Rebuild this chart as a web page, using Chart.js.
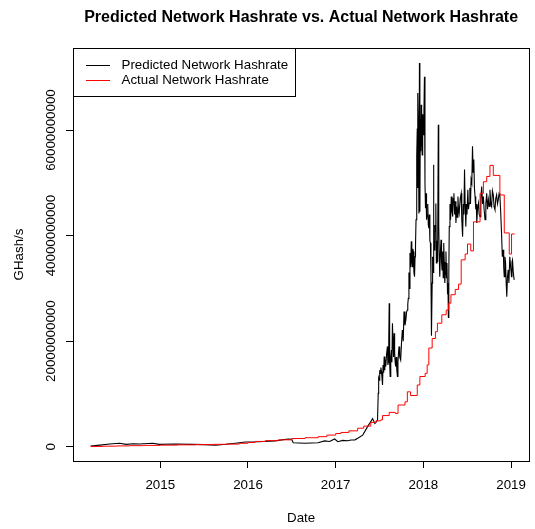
<!DOCTYPE html>
<html><head><meta charset="utf-8">
<script src="https://cdn.jsdelivr.net/npm/chart.js@4.4.0/dist/chart.umd.min.js"></script>
<style>html,body{margin:0;padding:0;background:#fff;overflow:hidden}canvas{display:block}</style>
</head><body><canvas id="c" width="535" height="529"></canvas>
<script>
const chartTitle = 'Predicted Network Hashrate vs. Actual Network Hashrate';
const xAxisTitle = 'Date';
const yAxisTitle = 'GHash/s';
const legendLabels = ['Predicted Network Hashrate', 'Actual Network Hashrate'];
const xTickYears = [2015, 2016, 2017, 2018, 2019];
const yTickValues = [0, 20000000000, 40000000000, 60000000000];

// [decimal year, GHash/s]
const predictedSeries = [
 [2014.205,0.013e10],[2014.31,0.03e10],[2014.423,0.05e10],[2014.536,0.065e10],[2014.612,0.045e10],
 [2014.69,0.055e10],[2014.762,0.05e10],[2014.913,0.065e10],[2014.989,0.045e10],[2015.17,0.05e10],
 [2015.362,0.045e10],[2015.5,0.04e10],[2015.63,0.027e10],[2015.75,0.045e10],[2015.856,0.065e10],
 [2015.969,0.09e10],[2016.12,0.095e10],[2016.309,0.11e10],[2016.459,0.146e10],[2016.497,0.14e10],
 [2016.516,0.076e10],[2016.648,0.065e10],[2016.799,0.076e10],[2016.874,0.11e10],[2016.93,0.1e10],
 [2016.988,0.146e10],[2017.025,0.095e10],[2017.08,0.12e10],[2017.138,0.114e10],[2017.175,0.127e10],
 [2017.22,0.13e10],[2017.251,0.16e10],[2017.308,0.22e10],[2017.364,0.38e10],[2017.421,0.53e10],
 [2017.447,0.44e10],[2017.477,0.5e10],[2017.485,1.01e10],[2017.49,1.3e10],[2017.497,1.26e10],
 [2017.502,1.45e10],[2017.508,1.39e10],[2017.515,1.5e10],[2017.523,1.42e10],[2017.528,1.3e10],
 [2017.534,1.17e10],[2017.54,1.55e10],[2017.547,1.4e10],[2017.553,1.71e10],[2017.56,1.45e10],
 [2017.565,1.65e10],[2017.571,1.52e10],[2017.58,1.75e10],[2017.59,1.9e10],[2017.595,1.55e10],
 [2017.6,1.6e10],[2017.605,2.0e10],[2017.61,2.72e10],[2017.615,1.6e10],[2017.621,1.33e10],
 [2017.628,1.7e10],[2017.636,1.83e10],[2017.641,1.6e10],[2017.647,2.34e10],[2017.655,1.9e10],
 [2017.66,1.7e10],[2017.666,2.15e10],[2017.672,1.8e10],[2017.678,1.6e10],[2017.684,1.52e10],
 [2017.69,1.7e10],[2017.697,1.45e10],[2017.704,1.33e10],[2017.71,1.6e10],[2017.717,1.8e10],
 [2017.723,1.9e10],[2017.73,1.7e10],[2017.741,1.64e10],[2017.75,1.95e10],[2017.76,2.21e10],
 [2017.77,2.0e10],[2017.779,2.56e10],[2017.79,2.3e10],[2017.8,2.4e10],[2017.808,2.55e10],
 [2017.817,2.59e10],[2017.822,2.7e10],[2017.828,2.81e10],[2017.835,3.3e10],[2017.84,3.0e10],
 [2017.847,3.67e10],[2017.855,3.4e10],[2017.862,3.89e10],[2017.868,3.5e10],[2017.873,3.41e10],
 [2017.879,3.75e10],[2017.885,3.7e10],[2017.892,3.3e10],[2017.899,3.22e10],[2017.905,3.6e10],
 [2017.91,3.8e10],[2017.916,4.3e10],[2017.922,4.87e10],[2017.926,5.5e10],[2017.93,6.03e10],
 [2017.934,4.9e10],[2017.938,6.7e10],[2017.944,5.8e10],[2017.949,4.42e10],[2017.955,7.27e10],
 [2017.96,4.45e10],[2017.965,6.2e10],[2017.97,5.6e10],[2017.975,6.48e10],[2017.98,6.0e10],
 [2017.986,5.53e10],[2017.992,6.3e10],[2017.998,5.91e10],[2018.005,6.2e10],[2018.012,7.01e10],
 [2018.018,5.0e10],[2018.024,4.52e10],[2018.03,4.8e10],[2018.036,4.3e10],[2018.043,4.39e10],
 [2018.05,4.6e10],[2018.056,4.2e10],[2018.062,4.14e10],[2018.068,4.4e10],[2018.074,3.9e10],
 [2018.08,3.86e10],[2018.086,3.3e10],[2018.092,2.1e10],[2018.1,3.1e10],[2018.105,3.6e10],
 [2018.11,3.3e10],[2018.115,5.34e10],[2018.12,3.9e10],[2018.126,3.73e10],[2018.131,4.2e10],
 [2018.137,4.08e10],[2018.142,4.61e10],[2018.148,3.48e10],[2018.155,3.9e10],[2018.162,3.5e10],
 [2018.17,6.1e10],[2018.175,4.2e10],[2018.181,3.6e10],[2018.187,3.22e10],[2018.194,3.7e10],
 [2018.201,3.92e10],[2018.207,3.5e10],[2018.213,3.35e10],[2018.22,3.7e10],[2018.226,3.2e10],
 [2018.232,3.86e10],[2018.238,3.5e10],[2018.244,3.1e10],[2018.25,3.29e10],[2018.257,3.7e10],
 [2018.263,3.2e10],[2018.269,3.48e10],[2018.275,2.9e10],[2018.28,3.1e10],[2018.285,2.45e10],
 [2018.29,3.3e10],[2018.295,4.17e10],[2018.303,4.6e10],[2018.31,4.3e10],[2018.318,4.74e10],
 [2018.326,4.45e10],[2018.334,4.36e10],[2018.34,4.7e10],[2018.348,4.8e10],[2018.356,4.4e10],
 [2018.363,4.65e10],[2018.371,4.24e10],[2018.379,4.55e10],[2018.387,4.35e10],[2018.394,4.74e10],
 [2018.4,4.5e10],[2018.408,4.42e10],[2018.42,4.7e10],[2018.431,4.8e10],[2018.438,4.3e10],
 [2018.447,3.98e10],[2018.455,4.6e10],[2018.462,4.4e10],[2018.469,5.25e10],[2018.476,4.6e10],
 [2018.484,4.17e10],[2018.49,4.6e10],[2018.497,4.4e10],[2018.507,4.87e10],[2018.514,4.5e10],
 [2018.521,4.61e10],[2018.53,4.9e10],[2018.537,4.6e10],[2018.544,5.06e10],[2018.552,5.0e10],
 [2018.56,5.69e10],[2018.567,5.2e10],[2018.575,5.44e10],[2018.582,4.9e10],[2018.589,4.74e10],
 [2018.597,4.5e10],[2018.603,4.6e10],[2018.609,4.24e10],[2018.617,4.5e10],[2018.628,4.61e10],
 [2018.636,4.4e10],[2018.646,4.36e10],[2018.655,4.7e10],[2018.665,4.93e10],[2018.674,4.6e10],
 [2018.684,4.74e10],[2018.692,4.5e10],[2018.703,4.3e10],[2018.712,4.6e10],[2018.722,4.8e10],
 [2018.731,4.5e10],[2018.741,4.68e10],[2018.75,4.55e10],[2018.759,4.87e10],[2018.768,4.6e10],
 [2018.778,4.55e10],[2018.787,4.85e10],[2018.797,4.77e10],[2018.806,4.55e10],[2018.816,4.49e10],
 [2018.825,4.7e10],[2018.835,4.77e10],[2018.845,4.6e10],[2018.854,4.68e10],[2018.863,4.8e10],
 [2018.872,4.77e10],[2018.88,4.5e10],[2018.891,4.05e10],[2018.9,3.6e10],[2018.911,3.73e10],
 [2018.916,3.4e10],[2018.922,3.22e10],[2018.93,3.6e10],[2018.937,3.48e10],[2018.944,3.1e10],
 [2018.951,2.84e10],[2018.958,3.2e10],[2018.967,3.35e10],[2018.975,3.1e10],[2018.985,3.6e10],
 [2018.995,3.4e10],[2019.005,3.22e10],[2019.01,3.5e10],[2019.016,3.54e10],[2019.025,3.3e10],
 [2019.035,3.16e10]
];
const actualSeries = [
 [2014.205,0.005e10],[2014.35,0.01e10],[2014.5,0.015e10],[2014.65,0.02e10],[2014.8,0.025e10],
 [2015.0,0.03e10],[2015.2,0.035e10],[2015.4,0.04e10],[2015.6,0.045e10],[2015.75,0.05e10],
 [2015.9,0.065e10],[2016.0,0.08e10],[2016.08,0.1e10],[2016.2,0.115e10],[2016.35,0.13e10],
 [2016.5,0.155e10],[2016.65,0.17e10],[2016.8,0.19e10],[2016.9,0.22e10],[2017.0,0.25e10],
 [2017.06,0.27e10],[2017.15,0.3e10],[2017.25,0.35e10],[2017.32,0.39e10],[2017.4,0.46e10],
 [2017.46,0.49e10],[2017.515,0.51e10],[2017.534,0.59e10],[2017.61,0.65e10],[2017.68,0.63e10],
 [2017.711,0.79e10],[2017.79,0.85e10],[2017.817,1.04e10],[2017.854,0.97e10],[2017.93,1.17e10],
 [2017.96,1.33e10],[2018.02,1.39e10],[2018.043,1.55e10],[2018.062,1.87e10],[2018.1,2.05e10],
 [2018.137,2.18e10],[2018.16,2.34e10],[2018.21,2.5e10],[2018.26,2.59e10],[2018.288,2.72e10],
 [2018.314,2.88e10],[2018.363,2.98e10],[2018.401,3.08e10],[2018.431,3.54e10],[2018.476,3.65e10],
 [2018.503,3.84e10],[2018.54,3.71e10],[2018.571,4.26e10],[2018.646,4.8e10],[2018.684,5.02e10],
 [2018.722,5.12e10],[2018.759,5.33e10],[2018.797,5.14e10],[2018.872,4.77e10],[2018.922,4.05e10],
 [2018.979,3.65e10],[2019.005,4.03e10],[2019.04,4.03e10]
];

const FONT = "'Liberation Sans', Arial, Helvetica, sans-serif";
const toXY = s => s.map(p => ({x: p[0], y: p[1]}));

const rStyle = {
  id: 'rStyle',
  afterDraw(chart) {
    const ctx = chart.ctx, a = chart.chartArea, ys = chart.scales.y;
    const cx = (a.left + a.right) / 2, cy = (a.top + a.bottom) / 2;
    ctx.save();
    ctx.strokeStyle = '#000'; ctx.lineWidth = 1;
    const L = Math.round(a.left) + 0.5, T = Math.round(a.top) + 0.5;
    const R = Math.round(a.right) + 0.5, B = Math.round(a.bottom) + 0.5;
    ctx.strokeRect(L, T, R - L, B - T);
    ctx.fillStyle = '#000';
    ctx.font = '13.33px ' + FONT;
    ctx.textAlign = 'center'; ctx.textBaseline = 'alphabetic';
    yTickValues.forEach(v => {
      const py = ys.getPixelForValue(v);
      ctx.save(); ctx.translate(55, py); ctx.rotate(-Math.PI / 2);
      ctx.fillText(String(v), 0, 0); ctx.restore();
    });
    ctx.save(); ctx.translate(23, cy); ctx.rotate(-Math.PI / 2);
    ctx.fillText(yAxisTitle, 0, 0); ctx.restore();
    ctx.fillText(xAxisTitle, cx, 522);
    ctx.font = 'bold 16px ' + FONT;
    ctx.fillText(chartTitle, cx, 22);
    // legend (R style, top-left)
    ctx.strokeRect(L, T, 295.5 - L, 96.5 - T);
    const cols = ['#000000', '#ff0000'];
    const rows = [65.5, 80.5];
    ctx.font = '13.33px ' + FONT;
    ctx.textAlign = 'left'; ctx.textBaseline = 'middle';
    legendLabels.forEach((t, i) => {
      ctx.strokeStyle = cols[i];
      ctx.beginPath(); ctx.moveTo(86, rows[i]); ctx.lineTo(110, rows[i]); ctx.stroke();
      ctx.fillStyle = '#000';
      ctx.fillText(t, 121.5, rows[i] - 0.5);
    });
    ctx.restore();
  }
};

new Chart(document.getElementById('c'), {
  type: 'line',
  data: {
    datasets: [
      {label: legendLabels[1], data: toXY(actualSeries), borderColor: '#ff0000',
       borderWidth: 1, pointRadius: 0, stepped: true, fill: false},
      {label: legendLabels[0], data: toXY(predictedSeries), borderColor: '#000000',
       borderWidth: 1.1, pointRadius: 0, tension: 0, fill: false}
    ]
  },
  options: {
    responsive: false, animation: false,
    layout: {padding: {left: 0, top: 48, right: 2, bottom: 0}},
    plugins: {legend: {display: false}, tooltip: {enabled: false}, title: {display: false}},
    scales: {
      x: {
        type: 'linear', min: 2014.0048, max: 2019.207,
        afterBuildTicks: s => { s.ticks = xTickYears.map(v => ({value: v})); },
        afterFit: s => { s.height = 68; },
        grid: {drawOnChartArea: false, drawTicks: true, tickLength: 7, color: '#000', tickColor: '#000'},
        border: {display: true, color: '#000'},
        ticks: {autoSkip: false, maxRotation: 0, minRotation: 0, padding: 9, color: '#000',
                font: {family: FONT, size: 13.33}, callback: v => String(v)}
      },
      y: {
        type: 'linear', min: -0.2709e10, max: 7.554e10,
        afterBuildTicks: s => { s.ticks = yTickValues.map(v => ({value: v})); },
        afterFit: s => { s.width = 73; },
        grid: {drawOnChartArea: false, drawTicks: true, tickLength: 7, color: '#000', tickColor: '#000'},
        border: {display: true, color: '#000'},
        ticks: {display: false}
      }
    }
  },
  plugins: [rStyle]
});
</script></body></html>
